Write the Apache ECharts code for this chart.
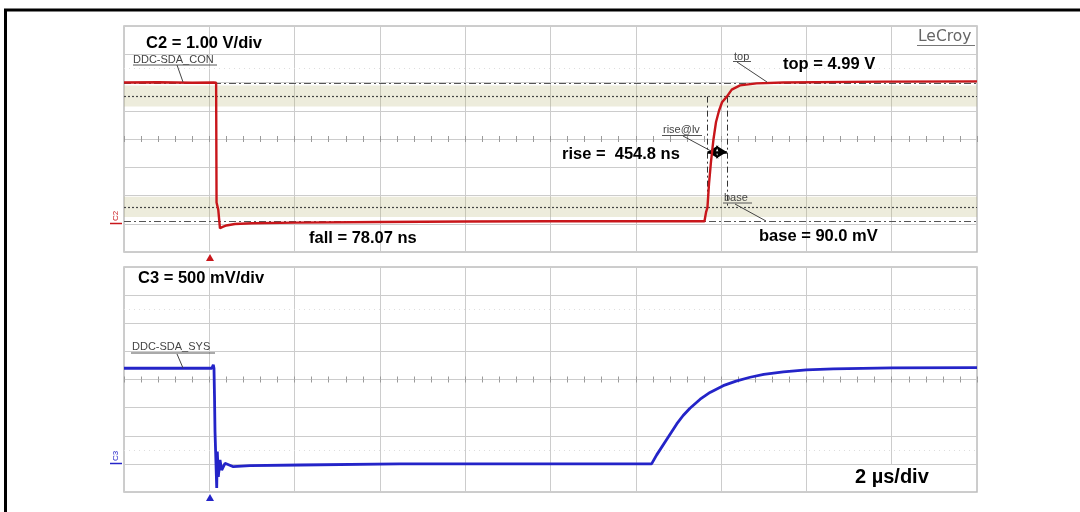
<!DOCTYPE html>
<html>
<head>
<meta charset="utf-8">
<script src="https://cdn.jsdelivr.net/npm/echarts@6/dist/echarts.min.js"></script>
<style>
html,body{margin:0;padding:0;background:#fff;}
#chart{width:1080px;height:512px;}
</style>
</head>
<body>
<div id="chart"></div>
<script>
// ---- time axis (µs), 2 µs/div, trigger at 0 ----
const timeRange = [-2, 18];
// ---- C2 (DDC-SDA_CON), 1.00 V/div ----
const c2Range = [-1, 7];
const c2T = [-2, -1.2, -0.4, 0.1, 0.16, 0.17, 0.19, 0.21, 0.25, 0.3, 0.4, 0.6, 1.0, 2.0, 4.0, 6.0, 8.0, 10.0, 11.61, 11.646, 11.68, 11.716, 11.763, 11.822, 11.881, 11.951, 12.022, 12.135, 12.249, 12.444, 12.835, 13.458, 15.8, 18];
const c2V = [5.0, 5.01, 4.99, 5.0, 4.99, 0.75, 0.7, 0.5, -0.16, -0.12, -0.06, -0.01, 0.02, 0.04, 0.06, 0.08, 0.09, 0.09, 0.09, 0.4, 0.58, 1.4, 2.2, 3.0, 3.6, 4.0, 4.3, 4.5, 4.75, 4.9, 4.97, 5.0, 5.03, 5.04];
// measurement levels (V): top, base, 90 %, 10 %
const c2Levels = [4.99, 0.09, 4.50, 0.58];
// shaded bands (V)
const c2Bands = [[4.15, 4.89], [0.24, 0.96]];
// rise cursors (µs) and arrow level (V)
const riseCursors = [11.68, 12.135];
const riseArrowLevel = 2.54;
// ---- C3 (DDC-SDA_SYS), 500 mV/div ----
const c3Range = [-0.5, 3.5];
const c3T = [-2, -1, 0, 0.06, 0.094, 0.11, 0.122, 0.134, 0.174, 0.188, 0.211, 0.251, 0.291, 0.368, 0.563, 0.954, 2.127, 4.47, 7.99, 10.37, 10.49, 10.72, 10.96, 11.11, 11.27, 11.51, 11.74, 12.05, 12.35, 12.68, 13.0, 13.46, 14.0, 14.63, 16.0, 18];
const c3V = [1.70, 1.70, 1.70, 1.70, 1.76, 1.70, 1.2, 0.57, -0.43, 0.22, -0.23, 0.07, -0.11, 0.01, -0.05, -0.03, -0.02, 0.0, 0.0, 0.0, 0.16, 0.43, 0.71, 0.86, 0.99, 1.15, 1.27, 1.39, 1.47, 1.54, 1.59, 1.635, 1.67, 1.69, 1.705, 1.712];

const zip = (a, b) => a.map((v, i) => [v, b[i]]);
const RED = '#c8161b', BLUE = '#2424c8';
const bold = 'bold 16.5px "Liberation Sans", Arial, sans-serif';
const small = '11px "Liberation Sans", Arial, sans-serif';

const grids = [
  {left: 124, top: 26, width: 853, height: 226},
  {left: 124, top: 267, width: 853, height: 225}
];

function mainX(g) {
  return {type: 'value', gridIndex: g, min: timeRange[0], max: timeRange[1], interval: 2,
    axisLine: {show: false}, axisTick: {show: false}, axisLabel: {show: false},
    splitLine: {show: true, lineStyle: {color: '#cccccc', width: 1}}};
}
function tickX(g, off, inside) {
  return {type: 'value', gridIndex: g, min: timeRange[0], max: timeRange[1], interval: 0.4,
    position: 'bottom', offset: off,
    axisLine: {show: false}, axisLabel: {show: false}, splitLine: {show: false},
    axisTick: {show: true, inside: inside, length: 3, lineStyle: {color: '#9a9a9a', width: 1}}};
}
function yAx(g, r, iv) {
  return {type: 'value', gridIndex: g, min: r[0], max: r[1], interval: iv,
    axisLine: {show: false}, axisTick: {show: false}, axisLabel: {show: false},
    splitLine: {show: true, lineStyle: {color: '#cccccc', width: 1}}};
}

const dashDot = [7, 3, 2, 3];
const option = {
  animation: false,
  backgroundColor: '#fff',
  grid: grids.map(g => Object.assign({show: true, borderColor: '#bdbdbd', borderWidth: 1.5}, g)),
  xAxis: [mainX(0), mainX(1), tickX(0, -113, true), tickX(0, -113, false), tickX(1, -112.5, true), tickX(1, -112.5, false)],
  yAxis: [yAx(0, c2Range, 1), yAx(1, c3Range, 0.5)],
  series: [
    {
      type: 'line', xAxisIndex: 0, yAxisIndex: 0, data: zip(c2T, c2V),
      showSymbol: false, symbol: 'none', z: 5,
      lineStyle: {color: RED, width: 2.4},
      markArea: {silent: true, itemStyle: {color: 'rgba(185,180,120,0.26)'},
        data: c2Bands.map(b => [{yAxis: b[1]}, {yAxis: b[0]}])},
      markLine: {silent: true, symbol: 'none', label: {show: false}, animation: false,
        data: [
          {yAxis: c2Levels[0], lineStyle: {color: '#555', type: dashDot, width: 1}},
          {yAxis: c2Levels[1], lineStyle: {color: '#555', type: dashDot, width: 1}},
          {yAxis: c2Levels[2], lineStyle: {color: '#444', type: [2, 2], width: 1.2}},
          {yAxis: c2Levels[3], lineStyle: {color: '#444', type: [2, 2], width: 1.2}},
          {yAxis: 5.5, lineStyle: {color: '#dedede', type: [1, 4], width: 1}},
          [{coord: [riseCursors[0], c2Levels[2]], lineStyle: {color: '#333', type: [6, 3, 2, 3], width: 1}}, {coord: [riseCursors[0], c2Levels[3]]}],
          [{coord: [riseCursors[1], c2Levels[2]], lineStyle: {color: '#333', type: [6, 3, 2, 3], width: 1}}, {coord: [riseCursors[1], c2Levels[3]]}],
          [{coord: [riseCursors[0], riseArrowLevel], symbol: 'arrow', symbolSize: [10, 11], lineStyle: {color: '#000', type: 'solid', width: 2.5}},
           {coord: [riseCursors[1], riseArrowLevel], symbol: 'arrow', symbolSize: [10, 11]}]
        ]}
    },
    {
      type: 'line', xAxisIndex: 1, yAxisIndex: 1, data: zip(c3T, c3V),
      showSymbol: false, symbol: 'none', z: 5,
      lineStyle: {color: BLUE, width: 2.8},
      markLine: {silent: true, symbol: 'none', label: {show: false}, animation: false,
        data: [
          {yAxis: 2.75, lineStyle: {color: '#dedede', type: [1, 4], width: 1}},
          {yAxis: 0.25, lineStyle: {color: '#dedede', type: [1, 4], width: 1}}
        ]}
    }
  ],
  graphic: []
};

function txt(x, y, text, font, fill, extra) {
  return Object.assign({type: 'text', x: x, y: y, z: 100,
    style: {text: text, font: font, fill: fill || '#000', verticalAlign: 'middle', align: 'left'}}, extra || {});
}
function ln(x1, y1, x2, y2, color, w) {
  return {type: 'line', z: 100, shape: {x1: x1, y1: y1, x2: x2, y2: y2}, style: {stroke: color || '#333', lineWidth: w || 1}};
}
function marker(x, y, text, color) {
  return {type: 'text', x: x, y: y, z: 100, rotation: Math.PI / 2,
    style: {text: text, font: '8px "Liberation Sans", Arial', fill: color, align: 'center', verticalAlign: 'middle'}};
}

option.graphic = [
  // page frame
  {type: 'rect', z: 100, shape: {x: 5.5, y: 10, width: 1200, height: 700}, style: {fill: 'none', stroke: '#000', lineWidth: 3}},
  // top panel labels
  txt(146, 43, 'C2 = 1.00 V/div', bold),
  txt(133, 60, 'DDC-SDA_CON', small, '#444'),
  ln(133, 65, 217, 65, '#555', 1), ln(177, 65, 183, 82, '#444', 1),
  txt(918, 37, 'LeCroy', '15.5px "DejaVu Sans", sans-serif', '#666'),
  ln(917, 45.5, 975, 45.5, '#777', 1),
  txt(734, 57, 'top', small, '#444'),
  ln(733, 61.5, 751, 61.5, '#555', 1), ln(737, 62, 767, 82, '#444', 1),
  txt(783, 64.5, 'top = 4.99 V', bold),
  txt(663, 130, 'rise@lv', small, '#444'),
  ln(662, 135.5, 702, 135.5, '#555', 1), ln(683, 136, 711, 151, '#444', 1),
  txt(562, 154, 'rise =  454.8 ns', bold),
  txt(309, 238.5, 'fall = 78.07 ns', bold),
  txt(724, 198, 'base', small, '#444'),
  ln(723, 203, 752, 203, '#555', 1), ln(735, 204, 766, 221, '#444', 1),
  txt(759, 236, 'base = 90.0 mV', bold),
  // channel markers
  marker(116, 216, 'C2', RED),
  ln(110, 223.5, 122, 223.5, RED, 1.5),
  {type: 'polygon', z: 100, shape: {points: [[210, 254], [206, 261], [214, 261]]}, style: {fill: RED}},
  // bottom panel labels
  txt(138, 278.5, 'C3 = 500 mV/div', bold),
  txt(132, 346.5, 'DDC-SDA_SYS', small, '#444'),
  ln(131, 353, 215, 353, '#555', 1), ln(177, 354, 183, 368, '#444', 1),
  marker(116, 456, 'C3', BLUE),
  ln(110, 463.5, 122, 463.5, BLUE, 1.5),
  {type: 'polygon', z: 100, shape: {points: [[210, 494], [206, 501], [214, 501]]}, style: {fill: BLUE}},
  {type: 'rect', z: 99, shape: {x: 847, y: 465, width: 129, height: 26}, style: {fill: '#fff'}},
  txt(855, 477, '2 µs/div', 'bold 20px "Liberation Sans", Arial, sans-serif')
];

const chart = echarts.init(document.getElementById('chart'), null, {renderer: 'canvas'});
chart.setOption(option);
</script>
</body>
</html>
